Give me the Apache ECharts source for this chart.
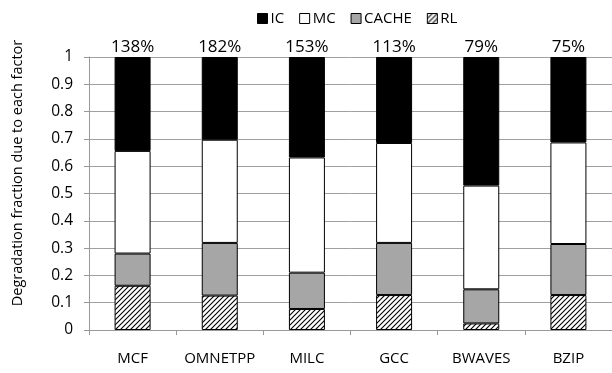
<!DOCTYPE html>
<html><head><meta charset="utf-8">
<script src="https://cdn.jsdelivr.net/npm/echarts@6/dist/echarts.min.js"></script>
<style>html,body{margin:0;padding:0;background:#fff}#c{width:612px;height:373px}</style>
</head><body><div id="c"></div>
<script>
var categories = ['MCF','OMNETPP','MILC','GCC','BWAVES','BZIP'];
var rlValues    = [0.162, 0.126, 0.077, 0.128, 0.024, 0.128];
var cacheValues = [0.118, 0.193, 0.133, 0.191, 0.125, 0.187];
var mcValues    = [0.376, 0.378, 0.422, 0.366, 0.380, 0.372];
var icValues    = [0.344, 0.303, 0.368, 0.315, 0.471, 0.313];
var totalLabels = ['138%','182%','153%','113%','79%','75%'];
var seriesNames = ['IC','MC','CACHE','RL'];
var yTitle = 'Degradation fraction due to each factor';

function hatch(){
  var c = document.createElement('canvas');
  c.width = 5; c.height = 5;
  var g = c.getContext('2d');
  g.fillStyle = '#fff'; g.fillRect(0,0,5,5);
  g.strokeStyle = '#000'; g.lineWidth = 1.1;
  g.beginPath();
  g.moveTo(-1,6); g.lineTo(6,-1);
  g.moveTo(-1,1); g.lineTo(1,-1);
  g.moveTo(4,6); g.lineTo(6,4);
  g.stroke();
  return c;
}
var pattern = {image: hatch(), repeat: 'repeat'};
var font = 'Open Sans';
var chart = echarts.init(document.getElementById('c'));
function ser(name, data, color, extra){
  var s = {name: name, type: 'bar', stack: 'a', data: data, barWidth: 36,
    itemStyle: {color: color, borderColor: '#000', borderWidth: 1}, emphasis:{disabled:true}};
  if (extra) for (var k in extra) s[k] = extra[k];
  return s;
}
chart.setOption({
  animation: false,
  textStyle: {fontFamily: font},
  legend: {top: 6, left: 252, itemWidth: 10, itemHeight: 10, itemGap: 15, icon: 'rect',
    data: seriesNames,
    itemStyle: {borderColor: '#000', borderWidth: 1},
    textStyle: {fontFamily: font, fontSize: 15, color: '#000', padding: [0,0,0,-2]}},
  graphic: [{type: 'text', x: 18, y: 173, rotation: Math.PI/2,
    style: {text: yTitle, fontFamily: font, fontSize: 14.5, fill: '#000',
      align: 'center', verticalAlign: 'middle'}}],
  grid: {left: 89, right: -3, top: 57, bottom: 43},
  xAxis: {type: 'category', data: categories,
    axisLine: {lineStyle: {color: '#999'}},
    axisTick: {show: true, length: 5, interval: 0, lineStyle: {color: '#999'}},
    axisLabel: {fontFamily: font, fontSize: 15, color: '#000', margin: 21, interval: 0}},
  yAxis: {type: 'value', min: 0, max: 1, interval: 0.1,
    axisLine: {show: true, lineStyle: {color: '#999'}},
    axisTick: {show: true, length: 5, lineStyle: {color: '#999'}},
    splitLine: {lineStyle: {color: '#a0a0a0', width: 1}},
    axisLabel: {fontFamily: font, fontSize: 15.5, color: '#000', margin: 16,
      formatter: function(v){ return String(Math.round(v*10)/10); }}},
  series: [
    ser('RL', rlValues, pattern),
    ser('CACHE', cacheValues, '#a6a6a6'),
    ser('MC', mcValues, '#ffffff'),
    ser('IC', icValues, '#000000', {label: {show: true, position: 'top', distance: 1,
      fontFamily: font, fontSize: 17, color: '#000',
      formatter: function(p){ return totalLabels[p.dataIndex]; }}})
  ]
});
</script></body></html>
